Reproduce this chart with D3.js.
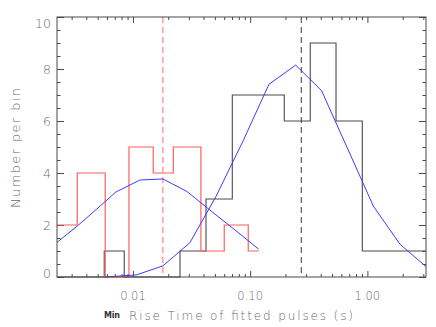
<!DOCTYPE html>
<html>
<head>
<meta charset="utf-8">
<script src="https://cdn.jsdelivr.net/npm/d3@7"></script>
<style>
  body { margin: 0; background: #fff; }
  text { font-family: "DejaVu Sans", sans-serif; font-weight: 200; fill: #6a6a6a; }
</style>
</head>
<body>
<svg id="chart"></svg>
<script>
// Histogram bin edges (s) and counts
const redEdges = [0.00225, 0.00335, 0.0058, 0.00925, 0.0149, 0.0221, 0.0380, 0.0601, 0.0963, 0.1182];
const redCounts = [2, 4, 0, 5, 4, 5, 1, 2, 1];

const blackEdges = [0.00225, 0.00569, 0.00843, 0.0252, 0.0420, 0.0704, 0.1954, 0.3256, 0.540, 0.905, 3.162];
const blackCounts = [0, 1, 0, 1, 3, 7, 6, 9, 6, 1];

// Blue fitted curves
const fitRedX = [0.00225, 0.00335, 0.00493, 0.00716, 0.01147, 0.01803, 0.02889, 0.04815, 0.0756, 0.1182];
const fitRedY = [1.33, 1.96, 2.62, 3.27, 3.73, 3.77, 3.29, 2.48, 1.78, 1.07];

const fitBlackX = [0.00577, 0.01071, 0.01803, 0.03063, 0.0511, 0.0863, 0.1446, 0.2445, 0.406, 0.687, 1.123, 1.897, 3.162];
const fitBlackY = [0.0, 0.08, 0.43, 1.32, 3.1, 5.2, 7.41, 8.15, 7.17, 4.88, 2.73, 1.26, 0.40];

// Dashed markers (medians)
const redMarker = 0.018;
const blackMarker = 0.273;

const xTickValues = [0.01, 0.1, 1];
const xTickLabels = ["0.01", "0.10", "1.00"];
const yTickValues = [0, 2, 4, 6, 8, 10];

let width = 436;
let height = 327;
let margin = { top: 17, right: 10, bottom: 50, left: 57 };

let svg = d3.select("#chart")
    .attr("width", width)
    .attr("height", height);

let x = d3.scaleLog()
    .domain([0.00225, 3.162])
    .range([margin.left, width - margin.right]);

let y = d3.scaleLinear()
    .domain([0, 10])
    .range([height - margin.bottom, margin.top]);

let x0 = margin.left, x1 = width - margin.right;
let y0 = height - margin.bottom, y1 = margin.top;

svg.append("clipPath").attr("id", "plot")
  .append("rect")
    .attr("x", x0).attr("y", y1 - 1)
    .attr("width", x1 - x0).attr("height", y0 - y1 + 2);

// minor log ticks
let minorX = [];
[0.001, 0.01, 0.1, 1].forEach(d => {
    for (let k = 2; k <= 9; k++) {
        let v = d * k;
        if (v > x.domain()[0] && v < x.domain()[1]) minorX.push(v);
    }
});
let minorY = d3.range(0, 10.01, 0.5).filter(v => v % 2 !== 0);

let axisColor = "#4a4a4a";

function tickAxis(axis, transform) {
    let g = svg.append("g").attr("transform", transform).call(axis);
    g.select(".domain").remove();
    g.selectAll(".tick line").attr("stroke", axisColor);
    g.selectAll(".tick text").remove();
}

// bottom / top ticks pointing inward
tickAxis(d3.axisBottom(x).tickValues(xTickValues).tickSizeInner(-6).tickSizeOuter(0), `translate(0,${y0})`);
tickAxis(d3.axisBottom(x).tickValues(minorX).tickSizeInner(-3).tickSizeOuter(0), `translate(0,${y0})`);
tickAxis(d3.axisTop(x).tickValues(xTickValues).tickSizeInner(-6).tickSizeOuter(0), `translate(0,${y1})`);
tickAxis(d3.axisTop(x).tickValues(minorX).tickSizeInner(-3).tickSizeOuter(0), `translate(0,${y1})`);

// left / right ticks pointing inward
tickAxis(d3.axisLeft(y).tickValues(yTickValues).tickSizeInner(-7).tickSizeOuter(0), `translate(${x0},0)`);
tickAxis(d3.axisLeft(y).tickValues(minorY).tickSizeInner(-3.5).tickSizeOuter(0), `translate(${x0},0)`);
tickAxis(d3.axisRight(y).tickValues(yTickValues).tickSizeInner(-7).tickSizeOuter(0), `translate(${x1},0)`);
tickAxis(d3.axisRight(y).tickValues(minorY).tickSizeInner(-3.5).tickSizeOuter(0), `translate(${x1},0)`);

// tick labels
svg.selectAll(".xlab")
    .data(xTickValues)
    .enter().append("text")
    .attr("x", d => x(d))
    .attr("y", 300)
    .attr("text-anchor", "middle")
    .style("font-size", "11.5px")
    .text((d, i) => xTickLabels[i]);

svg.selectAll(".ylab")
    .data(yTickValues)
    .enter().append("text")
    .attr("x", 51)
    .attr("y", d => Math.min(278, Math.max(27.5, y(d) + 5)))
    .attr("text-anchor", "end")
    .style("font-size", "12.5px")
    .text(d => d);

// axis titles
svg.append("text")
    .attr("x", 104)
    .attr("y", 318)
    .attr("textLength", 16)
    .style("font-size", "8px")
    .style("font-weight", "bold")
    .style("fill", "#333")
    .text("Min");

svg.append("text")
    .attr("x", 129)
    .attr("y", 319.5)
    .attr("textLength", 224)
    .style("font-size", "12px")
    .text("Rise Time of fitted pulses (s)");

svg.append("text")
    .attr("transform", "rotate(-90)")
    .attr("x", -148)
    .attr("y", 19.5)
    .attr("text-anchor", "middle")
    .attr("textLength", 120)
    .style("font-size", "13px")
    .text("Number per bin");

let plot = svg.append("g").attr("clip-path", "url(#plot)");

// histograms as steps
function stepPoints(edges, counts) {
    let pts = counts.map((c, i) => [edges[i], c]);
    pts.push([edges[edges.length - 1], counts[counts.length - 1]]);
    return pts;
}

let step = d3.line()
    .x(d => x(d[0]))
    .y(d => y(d[1]))
    .curve(d3.curveStepAfter);

plot.append("path")
    .attr("d", step(stepPoints(blackEdges, blackCounts)))
    .attr("fill", "none")
    .attr("stroke", "#4a4a4a")
    .attr("stroke-width", 1.1);

plot.append("path")
    .attr("d", step(stepPoints(redEdges, redCounts)))
    .attr("fill", "none")
    .attr("stroke", "#ff5f5f")
    .attr("stroke-width", 1.2);

// dashed markers
plot.append("line")
    .attr("x1", x(redMarker)).attr("x2", x(redMarker))
    .attr("y1", y1).attr("y2", y0)
    .attr("stroke", "#ff7a7a")
    .attr("stroke-width", 1.1)
    .attr("stroke-dasharray", "6,4");

plot.append("line")
    .attr("x1", x(blackMarker)).attr("x2", x(blackMarker))
    .attr("y1", y1).attr("y2", y0)
    .attr("stroke", "#4a4a4a")
    .attr("stroke-width", 1.1)
    .attr("stroke-dasharray", "6,4");

// fitted curves
let fitLine = d3.line()
    .x(d => x(d[0]))
    .y(d => y(d[1]));

plot.append("path")
    .attr("d", fitLine(fitRedX.map((v, i) => [v, fitRedY[i]])))
    .attr("fill", "none")
    .attr("stroke", "#3c3cff")
    .attr("stroke-width", 1);

plot.append("path")
    .attr("d", fitLine(fitBlackX.map((v, i) => [v, fitBlackY[i]])))
    .attr("fill", "none")
    .attr("stroke", "#3c3cff")
    .attr("stroke-width", 1);

// frame
svg.append("rect")
    .attr("x", x0).attr("y", y1)
    .attr("width", x1 - x0).attr("height", y0 - y1)
    .attr("fill", "none")
    .attr("stroke", axisColor)
    .attr("stroke-width", 1);
</script>
</body>
</html>
